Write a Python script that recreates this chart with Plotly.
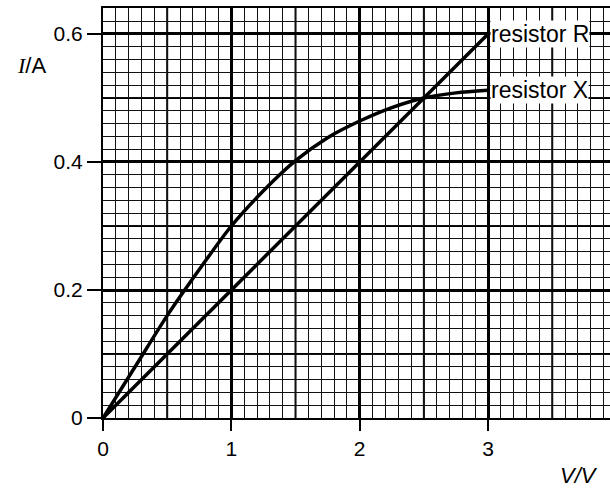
import plotly.graph_objects as go

# Data
r_v = [0, 3]
r_i = [0, 0.6]
x_v = [0, 0.25, 0.5, 0.75, 1.0, 1.25, 1.5, 1.75, 2.0, 2.25, 2.5, 2.75, 3.0]
x_i = [0, 0.08, 0.16, 0.232, 0.30, 0.355, 0.402, 0.438, 0.464, 0.485, 0.50, 0.508, 0.512]
x_ticks = [0, 1, 2, 3]
x_ticktext = ["0", "1", "2", "3"]
y_ticks = [0, 0.2, 0.4, 0.6]
y_ticktext = ["0", "0.2", "0.4", "0.6"]
x_half_grid = [0.5, 1.5, 2.5, 3.5]
y_half_grid = [0.1, 0.3, 0.5]

FONT = "Liberation Sans, Arial, sans-serif"

fig = go.Figure()
fig.add_trace(go.Scatter(x=r_v, y=r_i, mode="lines",
                         line=dict(color="black", width=3.5), cliponaxis=False))
fig.add_trace(go.Scatter(x=x_v, y=x_i, mode="lines",
                         line=dict(color="black", width=3.5, shape="spline", smoothing=0.8),
                         cliponaxis=False))

shapes = []
for v in x_half_grid:
    shapes.append(dict(type="line", xref="x", yref="paper", x0=v, x1=v, y0=0, y1=1,
                       line=dict(color="black", width=2), layer="below"))
for v in y_half_grid:
    shapes.append(dict(type="line", xref="paper", yref="y", x0=0, x1=1, y0=v, y1=v,
                       line=dict(color="black", width=2), layer="below"))

annotations = [
    dict(x=3, y=0.6, xref="x", yref="y", text="resistor R", showarrow=False,
         xanchor="left", yanchor="middle", bgcolor="white", borderpad=0, xshift=2,
         font=dict(family=FONT, size=23, color="black")),
    dict(x=3, y=0.512, xref="x", yref="y", text="resistor X", showarrow=False,
         xanchor="left", yanchor="middle", bgcolor="white", borderpad=0, xshift=2,
         font=dict(family=FONT, size=23, color="black")),
    dict(x=(31 - 103) / 507, y=(418 - 65) / 410, xref="paper", yref="paper",
         text='<span style="font-family:Liberation Serif"><i>I</i></span>/A',
         showarrow=False, xanchor="center", yanchor="middle",
         font=dict(family=FONT, size=22, color="black")),
    dict(x=(579 - 103) / 507, y=(418 - 476) / 410, xref="paper", yref="paper",
         text="<i>V/V</i>", showarrow=False, xanchor="center", yanchor="middle",
         font=dict(family=FONT, size=22, color="black")),
    dict(x=(616.6 - 103) / 507, y=(418 - 447) / 410, xref="paper", yref="paper",
         text="4", showarrow=False, xanchor="center", yanchor="middle",
         font=dict(family=FONT, size=21, color="black")),
]

fig.update_layout(
    width=610, height=491,
    margin=dict(l=103, r=0, t=8, b=73),
    plot_bgcolor="white", paper_bgcolor="white",
    showlegend=False,
    font=dict(family=FONT, size=21, color="black"),
    shapes=shapes,
    annotations=annotations,
    xaxis=dict(
        range=[0, 3.95], tickvals=x_ticks, ticktext=x_ticktext,
        ticks="outside", ticklen=11, tickwidth=2, tickcolor="black",
        showgrid=True, gridcolor="black", gridwidth=2.5,
        minor=dict(dtick=0.1, tick0=0, showgrid=True, gridcolor="#111", gridwidth=1.2, ticks=""),
        showline=True, linecolor="black", linewidth=2, mirror=True,
        zeroline=False, fixedrange=True,
    ),
    yaxis=dict(
        range=[0, 0.6406], tickvals=y_ticks, ticktext=y_ticktext,
        ticks="outside", ticklen=14, tickwidth=2, tickcolor="black",
        showgrid=True, gridcolor="black", gridwidth=2.5,
        minor=dict(dtick=0.02, tick0=0, showgrid=True, gridcolor="#111", gridwidth=1.2, ticks=""),
        showline=True, linecolor="black", linewidth=2,
        zeroline=False, fixedrange=True,
    ),
)

fig.write_html("out.html")
